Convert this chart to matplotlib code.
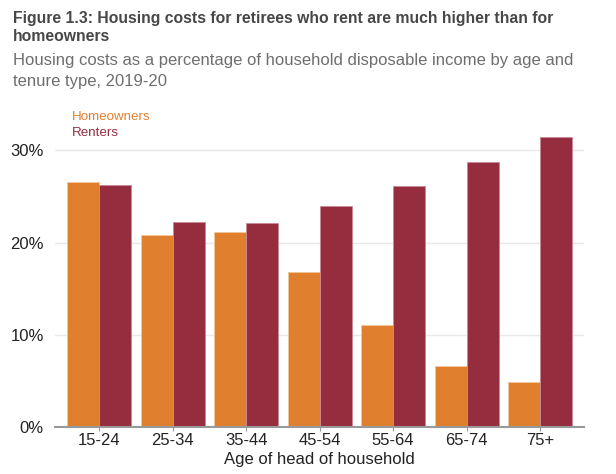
import matplotlib
matplotlib.use('Agg')
import matplotlib.pyplot as plt
import numpy as np

plt.rcParams['font.family'] = ['Liberation Sans', 'DejaVu Sans']

# data
age_groups = ['15-24', '25-34', '35-44', '45-54', '55-64', '65-74', '75+']
homeowners = [26.6, 20.8, 21.1, 16.8, 11.1, 6.6, 4.85]
renters = [26.2, 22.2, 22.1, 24.0, 26.1, 28.7, 31.5]

orange = '#E0802F'
red = '#952D3F'

fig = plt.figure(figsize=(6.16, 4.74), dpi=100)
ax = fig.add_axes([0.0893, 0.0992, 0.859, 0.632])

x = np.arange(len(age_groups))
w = 0.435
ax.bar(x - w / 2, homeowners, w, color=orange, edgecolor='#F2C79A', linewidth=0.6, zorder=3)
ax.bar(x + w / 2, renters, w, color=red, edgecolor='#C98A94', linewidth=0.6, zorder=3)

ax.set_xlim(-0.6, 6.6)
ax.set_ylim(0, 32.5)
ax.set_yticks([0, 10, 20, 30])
ax.set_yticklabels(['0%', '10%', '20%', '30%'], fontsize=12, color='#222222')
ax.set_xticks(x)
ax.set_xticklabels(age_groups, fontsize=12, color='#222222')
ax.tick_params(axis='y', length=0, pad=8)
ax.tick_params(axis='x', length=3, color='#999999', pad=1)

ax.grid(axis='y', color='#E8E8E8', linewidth=1, zorder=1)

for side in ['top', 'right', 'left']:
    ax.spines[side].set_visible(False)
ax.spines['bottom'].set_color('#999999')
ax.spines['bottom'].set_linewidth(1.5)
ax.spines['bottom'].set_zorder(4)

ax.set_xlabel('Age of head of household', fontsize=12, color='#222222', labelpad=3)

# legend as coloured text
fig.text(0.117, 0.754, 'Homeowners', color=orange, fontsize=9.6, va='center')
fig.text(0.117, 0.719, 'Renters', color=red, fontsize=9.6, va='center')

fig.text(0.021, 0.962, 'Figure 1.3: Housing costs for retirees who rent are much higher than for',
         fontsize=11.3, fontweight='bold', color='#474747', va='center')
fig.text(0.021, 0.922, 'homeowners', fontsize=11.3, fontweight='bold', color='#474747', va='center')
fig.text(0.021, 0.873, 'Housing costs as a percentage of household disposable income by age and',
         fontsize=12, color='#6E6E6E', va='center')
fig.text(0.021, 0.829, 'tenure type, 2019-20', fontsize=12, color='#6E6E6E', va='center')

fig.savefig('out.png', dpi=100)
